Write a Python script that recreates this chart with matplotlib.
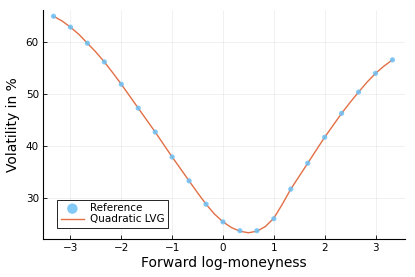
import matplotlib
matplotlib.use("Agg")
import matplotlib.pyplot as plt

# Reference data points (forward log-moneyness, vol in %)
ref_x = [-3.333, -3.0, -2.667, -2.333, -2.0, -1.667, -1.333, -1.0, -0.667, -0.333,
         0.0, 0.333, 0.667, 1.0, 1.333, 1.667, 2.0, 2.333, 2.667, 3.0, 3.333]
ref_y = [65.0, 62.9, 59.8, 56.2, 51.9, 47.3, 42.7, 37.9, 33.3, 28.8,
         25.4, 23.7, 23.7, 26.0, 31.7, 36.7, 41.7, 46.3, 50.4, 54.0, 56.6]

# Quadratic LVG curve
lvg_x = [-3.333, -3.167, -3.0, -2.833, -2.667, -2.5, -2.333, -2.167, -2.0, -1.833, -1.667,
         -1.5, -1.333, -1.167, -1.0, -0.833, -0.667, -0.5, -0.333, -0.167, 0.0, 0.167,
         0.333, 0.5, 0.667, 0.833, 1.0, 1.167, 1.333, 1.5, 1.667, 1.833, 2.0, 2.167,
         2.333, 2.5, 2.667, 2.833, 3.0, 3.167, 3.333]
lvg_y = [65.0, 64.1, 62.9, 61.5, 59.8, 58.1, 56.2, 54.1, 51.9, 49.6, 47.3,
         45.0, 42.7, 40.3, 37.9, 35.6, 33.3, 31.0, 28.8, 26.9, 25.4, 24.3,
         23.6, 23.3, 23.6, 24.5, 26.1, 28.8, 31.7, 34.2, 36.7, 39.2, 41.7, 44.0,
         46.3, 48.4, 50.4, 52.3, 54.0, 55.4, 56.6]

x_ticks = [-3, -2, -1, 0, 1, 2, 3]
y_ticks = [30, 40, 50, 60]

fig = plt.figure(figsize=(4.15, 2.77), dpi=100)
ax = fig.add_axes([43/415, 38/277, (405-43)/415, (239-10)/277])

ax.plot(lvg_x, lvg_y, color="#e26f46", lw=1.0, label="Quadratic LVG", zorder=2)
ax.scatter(ref_x, ref_y, s=14, color="#6cc0f5", alpha=0.85, edgecolors="none",
           label="Reference", zorder=3)

ax.set_xlim(-3.54, 3.58)
ax.set_ylim(22.1, 66.2)
ax.set_xticks(x_ticks)
ax.set_yticks(y_ticks)
ax.set_xticklabels(["\u2212" + str(-t) if t < 0 else str(t) for t in x_ticks])
ax.tick_params(direction="in", length=3, width=0.6, labelsize=7.5, pad=3)
ax.grid(True, color="black", alpha=0.08, lw=0.5)
for s in ["top", "right"]:
    ax.spines[s].set_visible(False)
for s in ["left", "bottom"]:
    ax.spines[s].set_linewidth(0.8)

ax.set_xlabel("Forward log-moneyness", fontsize=10, labelpad=2)
ax.set_ylabel("Volatility in %", fontsize=10, labelpad=4)

handles, labels = ax.get_legend_handles_labels()
leg = ax.legend([handles[1], handles[0]], [labels[1], labels[0]],
                loc="lower left", fontsize=7.5, fancybox=False, framealpha=1,
                edgecolor="black", borderpad=0.35, handlelength=2.2,
                markerscale=2.0, labelspacing=0.1, handletextpad=0.6,
                bbox_to_anchor=(0.025, 0.025))
leg.get_frame().set_linewidth(0.6)

fig.savefig("out.png", dpi=100)
